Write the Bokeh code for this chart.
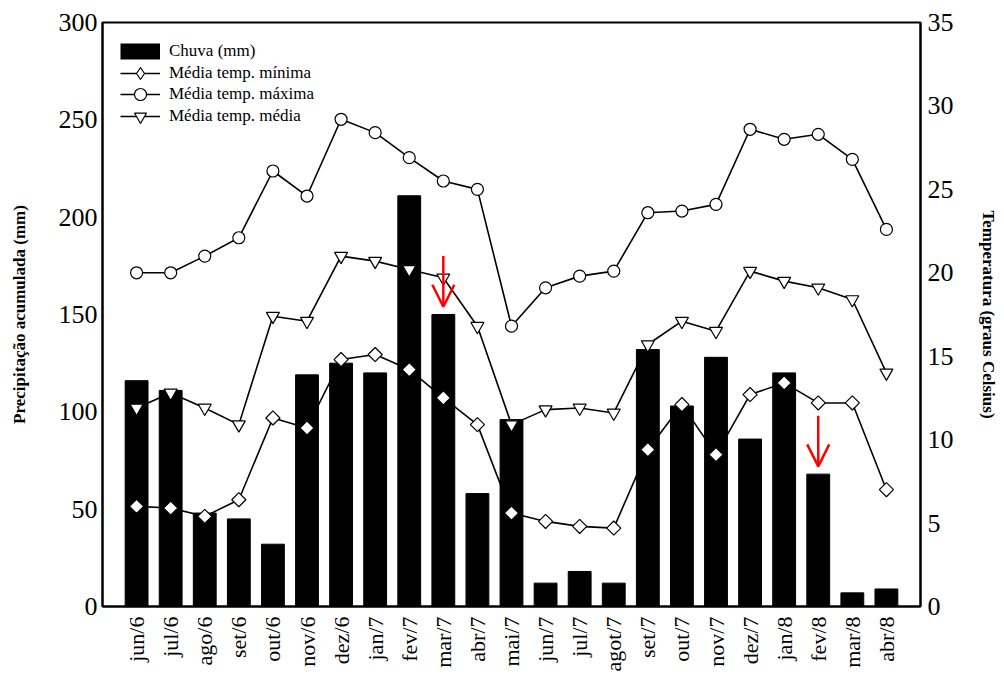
import math
from bokeh.plotting import figure
from bokeh.models import (Range1d, LinearAxis, FixedTicker, Arrow, OpenHead, ColumnDataSource,
                          Legend, LegendItem)
from bokeh.embed import file_html
from bokeh.resources import INLINE

meses = ["jun/6", "jul/6", "ago/6", "set/6", "out/6", "nov/6", "dez/6", "jan/7", "fev/7",
         "mar/7", "abr/7", "mai/7", "jun/7", "jul/7", "agot/7", "set/7", "out/7", "nov/7",
         "dez/7", "jan/8", "fev/8", "mar/8", "abr/8"]
chuva = [116, 111, 48, 45, 32, 119, 125, 120, 211, 150, 58, 96, 12, 18, 12, 132, 103, 128,
         86, 120, 68, 7, 9]
tmin = [6.0, 5.9, 5.4, 6.4, 11.3, 10.7, 14.8, 15.1, 14.2, 12.5, 10.9, 5.6, 5.1, 4.8, 4.7,
        9.4, 12.1, 9.1, 12.7, 13.4, 12.2, 12.2, 7.0]
tmax = [20.0, 20.0, 21.0, 22.1, 26.1, 24.6, 29.2, 28.4, 26.9, 25.5, 25.0, 16.8, 19.1, 19.8,
        20.1, 23.6, 23.7, 24.1, 28.6, 28.0, 28.3, 26.8, 22.6]
tmed = [11.9, 12.8, 11.9, 10.9, 17.4, 17.1, 21.0, 20.7, 20.2, 19.7, 16.8, 10.9, 11.8, 11.9,
        11.6, 15.7, 17.1, 16.5, 20.1, 19.5, 19.1, 18.4, 14.0]
setas = ["mar/7", "fev/8"]
ticks_mm = [0, 50, 100, 150, 200, 250, 300]
ticks_temp = [0, 5, 10, 15, 20, 25, 30, 35]
legendas = ["Chuva (mm)", "Média temp. mínima", "Média temp. máxima", "Média temp. média"]

FONT = "Liberation Serif"

x = list(range(1, len(meses) + 1))
src = ColumnDataSource(dict(x=x, chuva=chuva, tmin=tmin, tmax=tmax, tmed=tmed))

p = figure(width=1000, height=674, output_backend="svg", toolbar_location=None,
           x_range=Range1d(0, len(meses) + 1), y_range=Range1d(0, 300),
           min_border_left=102, min_border_right=75, min_border_top=22, min_border_bottom=64)
p.extra_y_ranges = {"temp": Range1d(0, 35)}
p.xgrid.visible = False
p.ygrid.visible = False
p.outline_line_color = "black"
p.outline_line_width = 2
p.background_fill_color = "white"
p.border_fill_color = "white"

# axes
ax_r = LinearAxis(y_range_name="temp", ticker=FixedTicker(ticks=ticks_temp),
                  axis_label="Temperatura (graus Celsius)")
p.add_layout(ax_r, "right")
p.yaxis[0].ticker = FixedTicker(ticks=ticks_mm)
p.yaxis[0].axis_label = "Precipitação acumulada (mm)"
p.xaxis.ticker = FixedTicker(ticks=x)
p.xaxis.major_label_overrides = {xi: m for xi, m in zip(x, meses)}
p.xaxis.major_label_orientation = math.pi / 2

for ax in p.axis:
    ax.axis_line_width = 2
    ax.major_tick_in = 0
    ax.major_tick_out = 0
    ax.minor_tick_in = 0
    ax.minor_tick_out = 0
    ax.major_label_text_font = FONT
    ax.major_label_text_color = "black"
    ax.axis_label_text_font = FONT
    ax.axis_label_text_font_style = "bold"
    ax.axis_label_text_font_size = "17px"
    ax.axis_label_text_color = "black"

p.yaxis.major_label_text_font_size = "26px"
p.yaxis[0].major_label_standoff = 5
ax_r.major_label_standoff = 7
p.yaxis[0].axis_label_standoff = 27
ax_r.axis_label_standoff = 22
p.xaxis.major_label_text_font_size = "22px"
p.xaxis.major_label_standoff = 10

# bars
p.vbar(x="x", top="chuva", width=0.67, source=src, fill_color="black", line_color="black")
# legend-only swatch for the bars (hidden on the plot)
r_bar_lg = p.line(x="x", y="chuva", source=src, line_color="black", line_width=16,
                  line_cap="butt", visible=False)

# temperature lines
r_l1 = p.line(x="x", y="tmin", source=src, y_range_name="temp", line_color="black",
              line_width=1.6)
p.scatter(x="x", y="tmin", source=src, y_range_name="temp", marker="square",
          angle=math.pi / 4, size=10, fill_color="white", line_color="black",
          line_width=1.2)
# legend-only diamond (hidden on the plot)
r_m1 = p.scatter(x="x", y="tmin", source=src, y_range_name="temp", marker="diamond",
                 size=14, fill_color="white", line_color="black", line_width=1.2,
                 visible=False)
r_l2 = p.line(x="x", y="tmax", source=src, y_range_name="temp", line_color="black",
              line_width=1.6)
r_m2 = p.scatter(x="x", y="tmax", source=src, y_range_name="temp", marker="circle",
                 size=12, fill_color="white", line_color="black", line_width=1.2)
r_l3 = p.line(x="x", y="tmed", source=src, y_range_name="temp", line_color="black",
              line_width=1.6)
r_m3 = p.scatter(x="x", y="tmed", source=src, y_range_name="temp", marker="inverted_triangle",
                 size=13, fill_color="white", line_color="black", line_width=1.2)

# red arrows
for m in setas:
    i = meses.index(m)
    v = chuva[i]
    p.add_layout(Arrow(x_start=x[i], y_start=v + 30, x_end=x[i], y_end=v + 4,
                       line_color="red", line_width=2.5,
                       end=OpenHead(size=22, line_color="red", line_width=2.5)))

# legend: one Legend per row so the markers can be large while rows stay close
rends = [[r_bar_lg], [r_l1, r_m1], [r_l2, r_m2], [r_l3, r_m3]]
ROW_H = 30
PITCH = 21.5
FRAME_H = 674 - 22 - 64
for k, (lab, rr) in enumerate(zip(legendas, rends)):
    top_off = 18 + k * PITCH  # row top, from frame top
    lg = Legend(items=[LegendItem(label=lab, renderers=rr)])
    lg.location = (18, FRAME_H - top_off - ROW_H)
    lg.margin = 0
    lg.padding = 0
    lg.border_line_alpha = 0
    lg.background_fill_alpha = 0
    lg.inactive_fill_alpha = 0
    lg.label_text_font = FONT
    lg.label_text_font_size = "17px"
    lg.label_text_color = "black"
    lg.glyph_width = 40
    lg.glyph_height = ROW_H
    lg.label_height = ROW_H
    lg.spacing = 0
    lg.label_standoff = 9
    p.add_layout(lg, "center")

open("out.html", "w").write(file_html(p, INLINE))
